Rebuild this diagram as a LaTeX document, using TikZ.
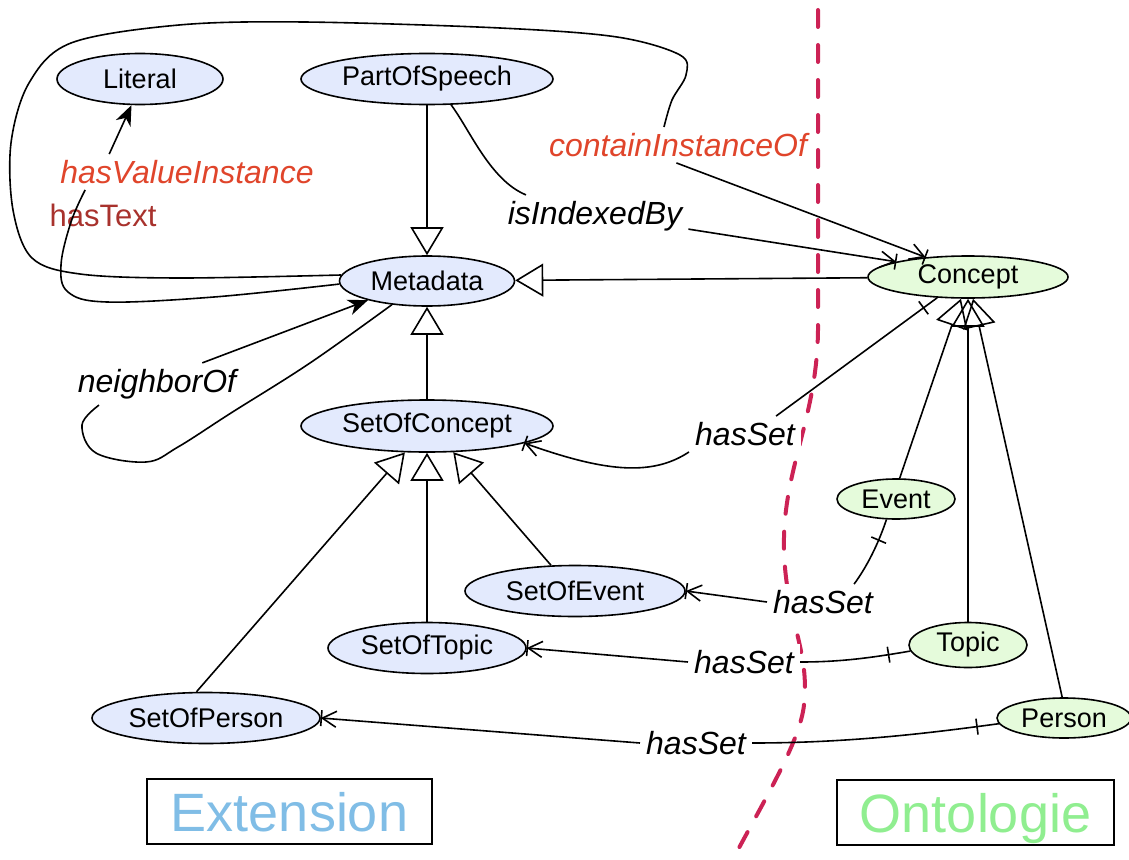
\documentclass[tikz,border=0pt]{standalone}
\usepackage{fontspec}
\setmainfont{Liberation Sans}
\usetikzlibrary{arrows.meta,shapes.geometric,decorations.markings}

\definecolor{extfill}{HTML}{E3EAFD}
\definecolor{ontfill}{HTML}{E5FBDB}
\definecolor{lblred}{HTML}{E0452B}
\definecolor{darkred}{HTML}{A8322D}
\definecolor{divider}{HTML}{CC2255}
\definecolor{extblue}{HTML}{80BDE6}
\definecolor{ontgreen}{HTML}{90EE90}

\tikzset{
  cls/.style={ellipse, draw, line width=1.6pt, inner sep=0pt, font=\fontsize{27}{32}\selectfont},
  ext/.style={cls, fill=extfill},
  ont/.style={cls, fill=ontfill},
  elabel/.style={font=\fontsize{32}{38}\selectfont\itshape, inner sep=6pt, fill=white},
  edge/.style={line width=1.6pt},
  gen/.style={edge, -{Triangle[open, length=28pt, width=33pt]}},
  barb/.style={edge, -{Straight Barb[length=14pt, width=16pt]}},
  filledarrow/.style={edge, -{Stealth[length=20pt, width=16pt, inset=6pt]}},
  endbar/.style={postaction={decorate, decoration={markings, mark=at position -0.5pt with {\draw[-, line width=1.6pt] (0pt,-8pt) -- (0pt,8pt);}}}},
  starttick/.style={postaction={decorate, decoration={markings, mark=at position #1 with {\draw[-, line width=1.6pt] (0pt,-8pt) -- (0pt,8pt);}}}},
  starttick/.default=22pt,
  titlebox/.style={draw, line width=1.6pt, inner sep=0pt, text depth=0pt, font=\fontsize{54}{60}\selectfont}
}

\begin{document}
\begin{tikzpicture}[x=1pt, y=-1pt]
\useasboundingbox (0,0) rectangle (1129,859);

% divider between extension and ontology
\draw[divider, line width=4pt, line cap=round, dash pattern=on 17pt off 18pt]
  (818,10) -- (818,330) .. controls (817,420) and (782,470) .. (784,550)
  .. controls (786,620) and (810,650) .. (804,705)
  .. controls (800,740) and (770,790) .. (733,859);

% classes
\node[ext, minimum width=166pt, minimum height=51pt] (Literal) at (140,79) {Literal};
\node[ext, minimum width=252pt, minimum height=51pt] (PartOfSpeech) at (427,79) {PartOfSpeech};
\node[ext, minimum width=175pt, minimum height=50pt] (Metadata) at (427,281) {Metadata};
\node[ext, minimum width=252pt, minimum height=52pt] (SetOfConcept) at (427,426) {SetOfConcept};
\node[ext, minimum width=220pt, minimum height=51pt] (SetOfEvent) at (575,591) {SetOfEvent};
\node[ext, minimum width=198pt, minimum height=51pt] (SetOfTopic) at (427,648) {SetOfTopic};
\node[ext, minimum width=228pt, minimum height=51pt] (SetOfPerson) at (206,718) {SetOfPerson};
\node[ont, minimum width=200pt, minimum height=42pt] (Concept) at (968,277) {Concept};
\node[ont, minimum width=118pt, minimum height=40pt] (Event) at (896,499) {Event};
\node[ont, minimum width=118pt, minimum height=45pt] (Topic) at (968,645) {Topic};
\node[ont, minimum width=134pt, minimum height=40pt] (Person) at (1064,718) {Person};

% edge labels
\node[elabel] (hsC) at (745,434) {hasSet};
\node[elabel] (hsE) at (823,602) {hasSet};
\node[elabel] (hsT) at (744,662) {hasSet};
\node[elabel] (hsP) at (696,743) {hasSet};
\node[elabel] (iib) at (595,216) {isIndexedBy};
\node[elabel, text=lblred] (cio) at (678,145) {containInstanceOf};
\node[elabel, text=lblred] (hvi) at (187,172) {hasValueInstance};
\node[elabel] (nb) at (157,384) {neighborOf};
\node[font=\fontsize{31}{36}\selectfont, text=darkred, inner sep=0pt] (ht) at (103,215) {hasText};

% generalisations
\draw[gen] (PartOfSpeech) -- (Metadata);
\draw[gen] (Concept) -- (Metadata);
\draw[gen] (SetOfConcept) -- (Metadata);
\draw[gen] (SetOfTopic) -- (SetOfConcept);
\draw[gen] (SetOfPerson.110) -- (SetOfConcept.230);
\draw[gen] (SetOfEvent.133) -- (SetOfConcept.-45);
\draw[gen] (Event.80) -- (Concept.252);
\draw[gen] (Topic) -- (Concept);
\draw[gen] (Person.95) -- (Concept.283);

% hasSet relations
\draw[edge, starttick=17pt] (Concept.214) -- (hsC.30);
\draw[barb, endbar] (hsC.south west) .. controls (650,478) and (600,470) .. (SetOfConcept.-10);
\draw[edge, starttick] (Event.245) .. controls (878,545) and (866,568) .. (hsE.30);
\draw[barb, endbar] (hsE.west) -- (SetOfEvent.east);
\draw[edge, starttick] (Topic.186) .. controls (870,658) and (840,662) .. (hsT.east);
\draw[barb, endbar] (hsT.west) -- (SetOfTopic.east);
\draw[edge, starttick] (Person.185) .. controls (930,733) and (850,743) .. (hsP.east);
\draw[barb, endbar] (hsP.west) -- (SetOfPerson.east);

% isIndexedBy
\draw[edge] (PartOfSpeech.-47) .. controls (470,130) and (490,180) .. (iib.163);
\draw[barb, endbar] (iib.-8) -- (Concept.168);

% containInstanceOf
\draw[edge] plot[smooth, tension=0.55] coordinates {(Metadata.176) (179,278) (80,274) (32,258) (13,210) (11,143) (29,83) (71,43) (179,25) (304,22) (500,28) (617,37) (680,55) (686,75) (672,100) (cio.128)};
\draw[barb, endbar] (cio.-95) -- (Concept.155);

% hasValueInstance / hasText
\draw[edge] plot[smooth, tension=0.6] coordinates {(Metadata.182) (214,297) (107,302) (68,292) (61,265) (71,222) (hvi.190)};
\draw[filledarrow] (hvi.167) -- (Literal.252);

% neighborOf
\draw[edge] plot[smooth, tension=0.6] coordinates {(Metadata.214) (310,363) (231,413) (178,447) (146,462) (96,453) (82,425) (nb.200)};
\draw[filledarrow] (nb.25) -- (Metadata.198);

% titles
\node[titlebox, minimum width=285pt, minimum height=65pt, text=extblue] (ExtBox) at (289.5,811.5) {Extension};
\node[titlebox, minimum width=277pt, minimum height=65pt, text=ontgreen] (OntBox) at (975.5,812.5) {Ontologie};
\end{tikzpicture}
\end{document}
